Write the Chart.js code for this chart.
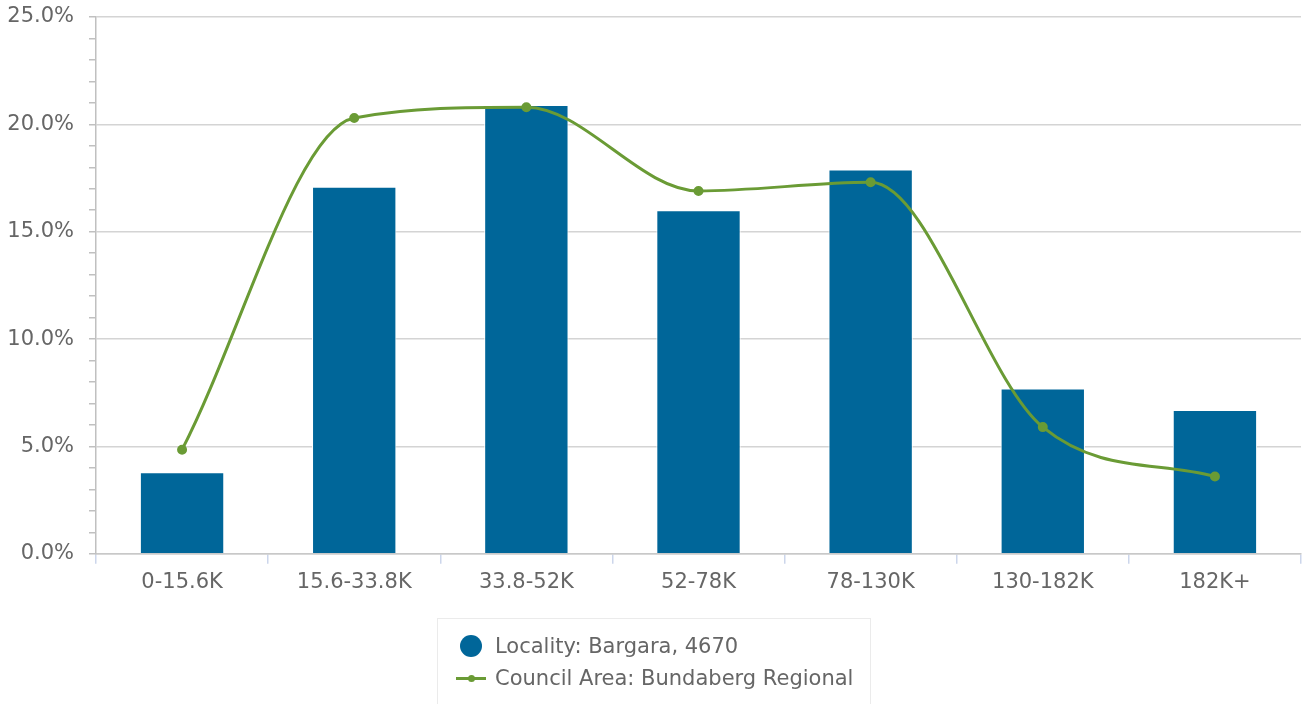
<!DOCTYPE html>
<html>
<head>
<meta charset="utf-8">
<script src="https://cdn.jsdelivr.net/npm/chart.js@4"></script>
<style>
  html, body { margin: 0; padding: 0; background: #fff; }
  #wrap { position: relative; width: 1303px; height: 704px; overflow: hidden; }
  canvas { display: block; }
  #legend {
    position: absolute; left: 437px; top: 618px; width: 434px; height: 110px;
    border: 1px solid #ebebeb; box-sizing: border-box;
    font-family: "DejaVu Sans", sans-serif; font-size: 21px; color: #666;
  }
  .item { position: absolute; left: 0; height: 32px; line-height: 32px; white-space: nowrap; }
  .item span.txt { position: absolute; left: 57px; }
  .dot { position: absolute; left: 22px; top: 5px; width: 22px; height: 22px; border-radius: 50%; }
  .seg { position: absolute; left: 18px; top: 15px; width: 30px; height: 3px; }
  .seg i { position: absolute; left: 12px; top: -2.5px; width: 7px; height: 7px; border-radius: 50%; }
</style>
</head>
<body>
<div id="wrap">
  <canvas id="incomeChart" width="1303" height="704"></canvas>
  <div id="legend"></div>
</div>
<script>
const incomeBands = ['0-15.6K', '15.6-33.8K', '33.8-52K', '52-78K', '78-130K', '130-182K', '182K+'];
const localityShare = [3.8, 17.1, 20.9, 16.0, 17.9, 7.7, 6.7];
const councilShare = [4.85, 20.3, 20.8, 16.9, 17.3, 5.9, 3.6];

const localityLabel = 'Locality: Bargara, 4670';
const councilLabel = 'Council Area: Bundaberg Regional';

const blue = '#006699';
const green = '#6a9b35';

const font = { family: '"DejaVu Sans", sans-serif', size: 21 };

const chart = new Chart(document.getElementById('incomeChart'), {
  data: {
    labels: incomeBands,
    datasets: [{
      type: 'bar',
      label: localityLabel,
      data: localityShare,
      backgroundColor: blue,
      borderColor: '#ffffff',
      borderWidth: 1,
      categoryPercentage: 1,
      barPercentage: 0.49,
      order: 1
    }, {
      type: 'line',
      label: councilLabel,
      data: councilShare,
      borderColor: green,
      backgroundColor: green,
      borderWidth: 3,
      pointRadius: 3.5,
      pointHoverRadius: 4,
      cubicInterpolationMode: 'monotone',
      clip: 8,
      order: 0
    }]
  },
  options: {
    responsive: false,
    animation: false,
    layout: { autoPadding: false, padding: { left: 8, right: 2, top: 17, bottom: 103 } },
    plugins: {
      legend: { display: false },
      tooltip: { enabled: false }
    },
    scales: {
      x: {
        offset: true,
        afterFit: s => { s.paddingLeft = 0; s.paddingRight = 0; },
        grid: { offset: true, drawOnChartArea: false, color: '#ccd6eb', tickLength: 10, lineWidth: 1.5 },
        border: { color: '#c8c8c8', width: 1.5 },
        ticks: { color: '#666', font: font, padding: 6 }
      },
      y: {
        min: 0,
        max: 25,
        afterFit: s => { s.width = 88; s.paddingTop = 0; s.paddingBottom = 0; },
        grid: {
          color: c => (c.tick && c.tick.value % 5 === 0) ? '#d4d4d4' : 'rgba(0,0,0,0)',
          lineWidth: 1.5,
          tickColor: '#c0c0c0',
          tickLength: 7
        },
        border: { color: '#c0c0c0', width: 1.5 },
        ticks: {
          stepSize: 1,
          autoSkip: false,
          color: '#666',
          font: font,
          padding: 15,
          callback: v => v % 5 === 0 ? v.toFixed(1) + '%' : ''
        }
      }
    }
  }
});

// legend box under the chart, built from the dataset settings
const legend = document.getElementById('legend');
chart.data.datasets.forEach((ds, i) => {
  const row = document.createElement('div');
  row.className = 'item';
  row.style.top = (11 + i * 32) + 'px';
  const mark = document.createElement('div');
  if (ds.type === 'bar') {
    mark.className = 'dot';
    mark.style.background = ds.backgroundColor;
  } else {
    mark.className = 'seg';
    mark.style.background = ds.borderColor;
    const d = document.createElement('i');
    d.style.background = ds.borderColor;
    mark.appendChild(d);
  }
  const txt = document.createElement('span');
  txt.className = 'txt';
  txt.textContent = ds.label;
  row.appendChild(mark);
  row.appendChild(txt);
  legend.appendChild(row);
});
</script>
</body>
</html>
